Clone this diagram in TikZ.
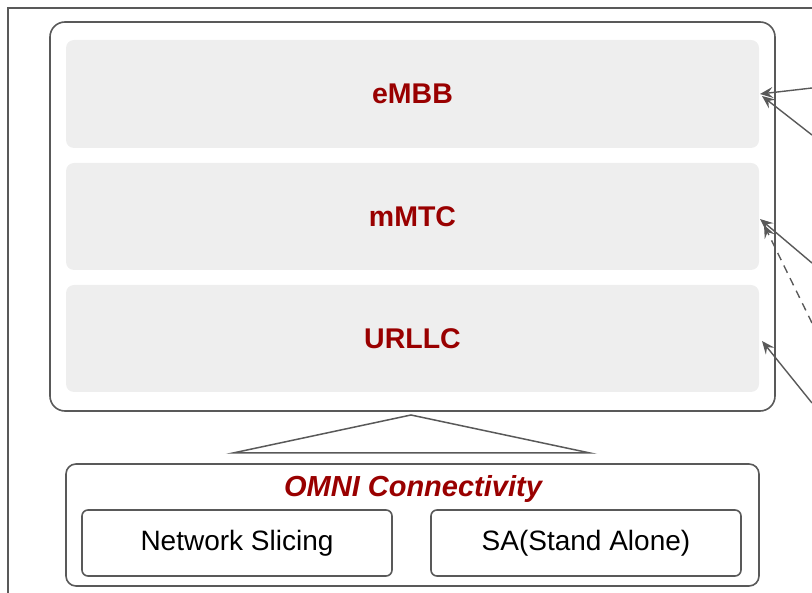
\documentclass[tikz,border=0pt]{standalone}
\usepackage{fontspec}
\setmainfont{Liberation Sans}
\usetikzlibrary{arrows.meta}
\definecolor{lineg}{HTML}{595959}
\definecolor{fillg}{HTML}{EEEEEE}
\definecolor{dred}{HTML}{990000}
\begin{document}
\begin{tikzpicture}[x=1pt,y=-1pt,
  outline/.style={draw=lineg, line width=1.6pt, rounded corners=#1, inner sep=0pt},
  band/.style={fill=fillg, rounded corners=8pt, inner sep=0pt, minimum width=693pt,
    font=\fontsize{28.5}{32}\selectfont\bfseries, text=dred},
  plain/.style={font=\fontsize{28}{32}\selectfont, text=black},
  conn/.style={draw=lineg, line width=1.4pt, -{Stealth[length=13pt,width=11pt,inset=5pt]}}
]
\useasboundingbox (0,0) rectangle (812,593);
% outer frame (partly cropped)
\coordinate (fb) at (8,593);
\coordinate (fc) at (8,8);
\coordinate (fr) at (812,8);
\draw[lineg, line width=1.4pt] (fb) -- (fc) -- (fr);

% big box
\node[outline=15pt, minimum width=725pt, minimum height=389pt] (big) at (412.5,216.5) {};
\node[band, minimum height=108pt] (embb) at (412.5,94) {eMBB};
\node[band, minimum height=107pt] (mmtc) at (412.5,216.5) {mMTC};
\node[band, minimum height=107pt] (urllc) at (412.5,338.5) {URLLC};

% triangle
\coordinate (apex) at (411,415);
\coordinate (bl) at (233,453);
\coordinate (br) at (590,453);
\draw[lineg, line width=1.5pt, line join=miter] (bl) -- (apex) -- (br) -- cycle;

% omni box
\node[outline=10pt, minimum width=693pt, minimum height=122pt] (omni) at (412.5,525) {};
\node[font=\fontsize{29}{32}\selectfont\bfseries\itshape, text=dred, inner sep=0pt] (omnit) at (413,489) {OMNI Connectivity};
\node[outline=6pt, plain, minimum width=310pt, minimum height=66pt] (ns) at (237,543) {\raisebox{-2pt}{Network Slicing}};
\node[outline=6pt, plain, minimum width=310pt, minimum height=66pt] (sa) at (586,543) {\raisebox{-2pt}{SA(Stand Alone)}};

% arrows from the right edge
\coordinate (s1) at (812,88);
\coordinate (s2) at (812,135);
\coordinate (s3) at (812,263);
\coordinate (s4) at (812,323);
\coordinate (s5) at (812,403);
\coordinate (t1) at (760,94);
\coordinate (t2) at (762,96);
\coordinate (t3) at (760,219);
\coordinate (t4) at (764,225);
\coordinate (t5) at (762,341);
\draw[conn] (s1) -- (t1);
\draw[conn] (s2) -- (t2);
\draw[conn] (s3) -- (t3);
\draw[conn, dashed, dash pattern=on 8pt off 6pt] (s4) -- (t4);
\draw[conn] (s5) -- (t5);
\end{tikzpicture}
\end{document}
